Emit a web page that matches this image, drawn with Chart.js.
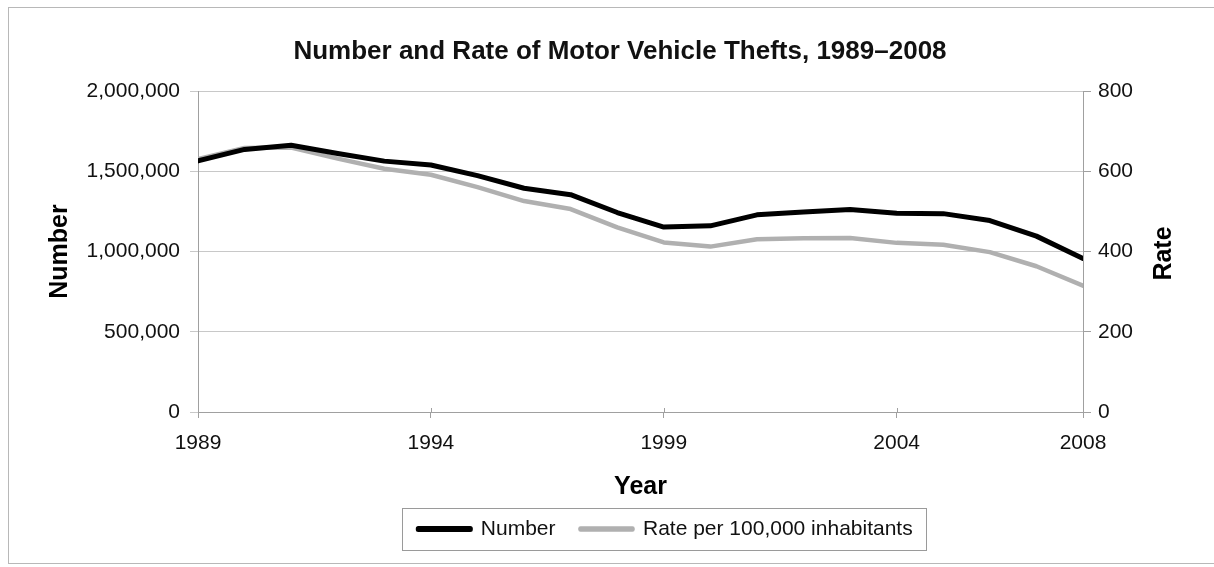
<!DOCTYPE html>
<html>
<head>
<meta charset="utf-8">
<title>Motor Vehicle Thefts</title>
<script src="https://cdn.jsdelivr.net/npm/chart.js@4.4.1/dist/chart.umd.min.js"></script>
<style>
  html, body { margin: 0; padding: 0; background: #fff; overflow: hidden; }
  #wrap { position: relative; width: 1214px; height: 567px; }
  #frame {
    position: absolute; left: 8px; top: 7px; width: 1230px; height: 555px;
    border: 1px solid #b8b8b8; pointer-events: none;
  }
</style>
</head>
<body>
<div id="wrap">
  <canvas id="chart" width="1214" height="567"></canvas>
  <div id="frame"></div>
</div>
<script>
// --- dados ---
const years = [1989, 1990, 1991, 1992, 1993, 1994, 1995, 1996, 1997, 1998,
               1999, 2000, 2001, 2002, 2003, 2004, 2005, 2006, 2007, 2008];
const numberThefts = [1564800, 1635900, 1661700, 1610800, 1563100, 1539300, 1472400, 1394200, 1354200, 1242800,
                      1152100, 1160000, 1228400, 1246600, 1261200, 1237900, 1235900, 1192800, 1095800, 956800];
const ratePer100k = [630.4, 657.8, 659.0, 631.6, 606.3, 591.3, 560.3, 525.7, 505.7, 459.9,
                     422.5, 412.2, 430.5, 432.9, 433.7, 421.5, 416.8, 398.4, 363.3, 314.7];
const xTickYears = [1989, 1994, 1999, 2004, 2008];
const numberTicks = [0, 500000, 1000000, 1500000, 2000000];
const rateTicks = [0, 200, 400, 600, 800];

const FONT = 'Liberation Sans, Arial, sans-serif';
const GRID = '#c8c8c8';
const AXIS = '#a0a0a0';

// move legenda/título para as posições do original e desenha a moldura da legenda
const layoutTweaks = {
    id: 'layoutTweaks',
    afterLayout(chart) {
        const lg = chart.legend;
        const dx = 665.5 - (lg.left + lg.right) / 2;
        const dy = 529 - (lg.top + 25 + 10.5);
        lg.left += dx; lg.right += dx;
        lg.top += dy; lg.bottom += dy;
        const tb = chart.titleBlock;
        tb.left += 13; tb.right += 13;
    },
    afterDraw(chart) {
        const { ctx } = chart;
        const lg = chart.legend;
        const hb = lg.legendHitBoxes;
        const first = hb[0], last = hb[hb.length - 1];
        const cy = lg.top + 25 + 10.5;
        const x0 = Math.round(first.left - 16) + 0.5;
        const x1 = Math.round(last.left + last.width + 13) + 0.5;
        const area = chart.chartArea;
        ctx.save();
        ctx.strokeStyle = '#9a9a9a';
        ctx.lineWidth = 1;
        ctx.strokeRect(x0, Math.round(cy - 21) + 0.5, x1 - x0, 42);

        // pequenas marcas do eixo X acima da linha (como no original)
        const xs = chart.scales.x;
        ctx.strokeStyle = AXIS;
        ctx.beginPath();
        xTickYears.forEach(v => {
            const px = Math.round(xs.getPixelForValue(v)) + 0.5;
            ctx.moveTo(px, area.bottom - 4);
            ctx.lineTo(px, area.bottom);
        });
        ctx.stroke();

        // título do eixo direito (lido de baixo para cima)
        ctx.translate(1164, (area.top + area.bottom) / 2 + 2);
        ctx.rotate(-Math.PI / 2);
        ctx.font = 'bold 25px ' + FONT;
        ctx.fillStyle = '#000';
        ctx.textAlign = 'center';
        ctx.textBaseline = 'middle';
        ctx.fillText('Rate', 0, 0);
        ctx.restore();
    }
};

new Chart(document.getElementById('chart'), {
    type: 'line',
    data: {
        datasets: [
            {
                label: 'Number',
                data: years.map((y, i) => ({ x: y, y: numberThefts[i] })),
                yAxisID: 'y',
                borderColor: '#000',
                backgroundColor: '#000',
                borderWidth: 5,
                pointRadius: 0,
                tension: 0,
                borderJoinStyle: 'round',
                borderCapStyle: 'round'
            },
            {
                label: 'Rate per 100,000 inhabitants',
                data: years.map((y, i) => ({ x: y, y: ratePer100k[i] })),
                yAxisID: 'y1',
                borderColor: '#b0b0b0',
                backgroundColor: '#b0b0b0',
                borderWidth: 4.5,
                pointRadius: 0,
                tension: 0,
                borderJoinStyle: 'round',
                borderCapStyle: 'round'
            }
        ]
    },
    options: {
        responsive: false,
        animation: false,
        events: [],
        layout: { padding: 0 },
        plugins: {
            title: {
                display: true,
                text: 'Number and Rate of Motor Vehicle Thefts, 1989–2008',
                color: '#111',
                font: { family: FONT, size: 26, weight: 'bold' },
                padding: { top: 36.4, bottom: 23.4 }
            },
            legend: {
                position: 'bottom',
                labels: {
                    color: '#111',
                    font: { family: FONT, size: 21 },
                    boxWidth: 52,
                    boxHeight: 1,
                    padding: 25
                }
            },
            tooltip: { enabled: false }
        },
        scales: {
            x: {
                type: 'linear',
                min: 1989,
                max: 2008,
                afterBuildTicks: s => { s.ticks = xTickYears.map(v => ({ value: v })); },
                afterFit: s => { s.height = 99; },
                ticks: {
                    color: '#111',
                    font: { family: FONT, size: 21 },
                    padding: 13,
                    maxRotation: 0,
                    autoSkip: false,
                    callback: v => String(v)
                },
                grid: { drawOnChartArea: false, color: AXIS, tickLength: 6 },
                border: { color: AXIS },
                title: {
                    display: true,
                    text: 'Year',
                    color: '#000',
                    font: { family: FONT, size: 25, weight: 'bold' },
                    padding: { top: 0, bottom: 9 }
                }
            },
            y: {
                position: 'left',
                min: 0,
                max: 2000000,
                afterBuildTicks: s => { s.ticks = numberTicks.map(v => ({ value: v })); },
                afterFit: s => { s.width = 198; },
                ticks: {
                    color: '#111',
                    font: { family: FONT, size: 21 },
                    padding: 10,
                    callback: v => v.toLocaleString('en-US')
                },
                grid: { color: GRID, tickLength: 8 },
                border: { color: AXIS },
                title: {
                    display: true,
                    text: 'Number',
                    color: '#000',
                    font: { family: FONT, size: 25, weight: 'bold' },
                    padding: { top: 45, bottom: 0 }
                }
            },
            y1: {
                position: 'right',
                min: 0,
                max: 800,
                afterBuildTicks: s => { s.ticks = rateTicks.map(v => ({ value: v })); },
                afterFit: s => { s.width = 131; },
                ticks: {
                    color: '#111',
                    font: { family: FONT, size: 21 },
                    padding: 7,
                    callback: v => String(v)
                },
                grid: { drawOnChartArea: false, color: AXIS, tickLength: 8 },
                border: { color: AXIS }
            }
        }
    },
    plugins: [layoutTweaks]
});
</script>
</body>
</html>
